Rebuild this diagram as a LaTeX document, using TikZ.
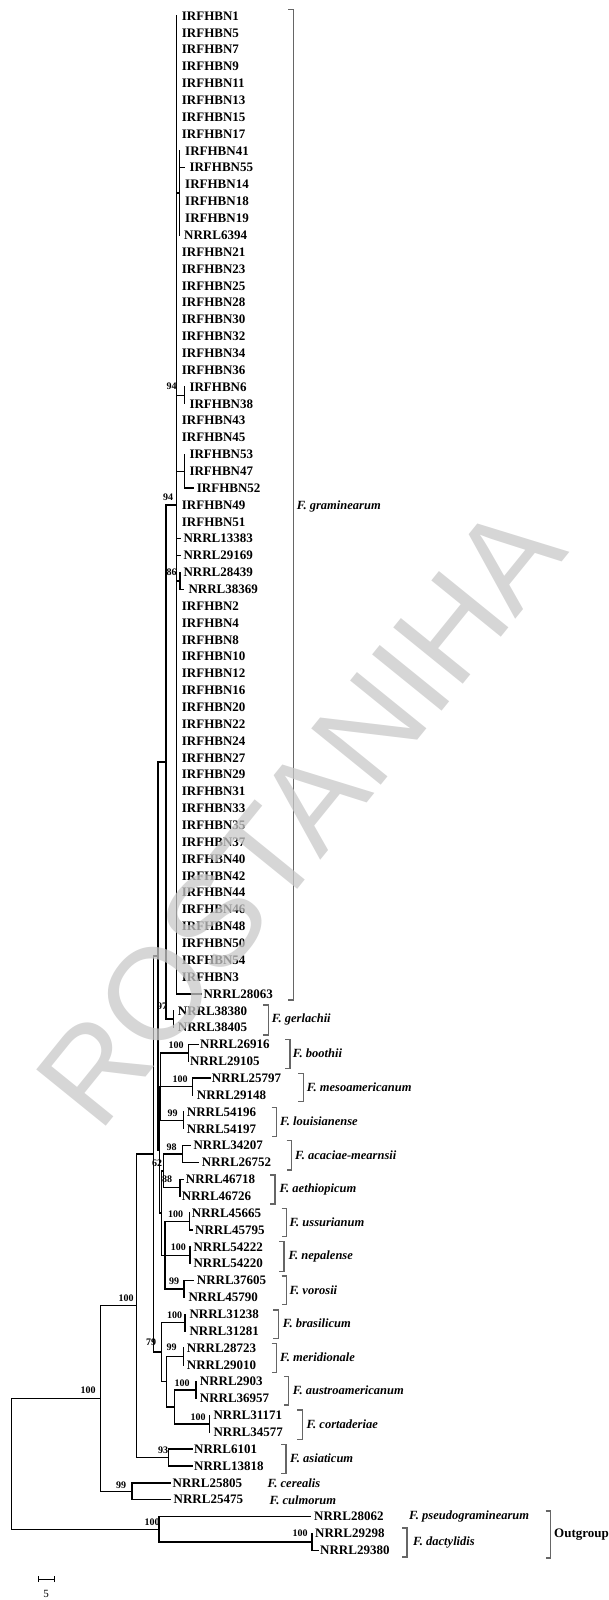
\documentclass[tikz,border=0pt]{standalone}
\usepackage{fontspec}
\setmainfont{Liberation Serif}
\newfontfamily\wmfont{Liberation Sans}
\tikzset{
 br/.style={line width=1.4pt, line cap=rect},
 lf/.style={anchor=west, inner sep=0pt, font=\fontsize{13}{13}\selectfont\bfseries},
 bs/.style={inner sep=0pt, font=\fontsize{10}{10}\selectfont\bfseries},
 sp/.style={anchor=west, inner sep=0pt, font=\fontsize{12.5}{12.5}\selectfont\bfseries\itshape},
 bk/.style={line width=1.1pt, draw=black!60},
 wm/.style={inner sep=0pt, text={rgb,255:red,200;green,200;blue,200}, opacity=0.75, font=\wmfont\fontsize{130}{130}\selectfont},
}
\newcommand\leaf[5]{%
 \coordinate (#1) at (#3,{16+(#4-1)*16.86});
 \draw[br] (#2 |- #1) -- (#1);
 \node[lf] (#1L) at (#5,{16+(#4-1)*16.86}) {#1};}
\newcommand\vl[3]{\draw[br] (#1 |- #2) -- (#1 |- #3);}
\newcommand\stem[2]{\draw[br] (#1 |- #2) -- (#2);}
\newcommand\brk[7]{%
 \draw[bk] ({#1-5},#2) -- (#1,#2) -- (#1,#3) -- ({#1-5},#3);
 \node[sp] (#7) at (#4,#5) {#6};}
\begin{document}
\begin{tikzpicture}[x=1pt,y=-1pt]
\useasboundingbox (0,0) rectangle (608,1600);
% internal nodes
\coordinate (G) at (176.7,504.9);
\coordinate (S1) at (179.3,193.03);
\coordinate (S2) at (184.3,395.35);
\coordinate (S3) at (184.3,471.22);
\coordinate (S4) at (180,580.81);
\coordinate (Ge) at (173.5,1019.17);
\coordinate (P1) at (166,762.0);
\coordinate (Bo) at (188.3,1052.89);
\coordinate (Me) at (192.7,1086.61);
\coordinate (Lo) at (183.3,1120.33);
\coordinate (M) at (160.7,1086.61);
\coordinate (Ac) at (182.3,1154.05);
\coordinate (Ae) at (180,1187.77);
\coordinate (AA) at (163.3,1170.91);
\coordinate (Us) at (189.3,1221.49);
\coordinate (Ne) at (190,1255.21);
\coordinate (Vo) at (184,1288.93);
\coordinate (U) at (165,1255.21);
\coordinate (N2) at (161.7,1213.06);
\coordinate (N1) at (159.3,1149.84);
\coordinate (P2) at (158,955.9);
\coordinate (Br) at (185,1322.65);
\coordinate (Mr) at (183.3,1356.37);
\coordinate (Au) at (195.8,1390.09);
\coordinate (Co) at (209.4,1423.81);
\coordinate (Y) at (174.5,1406.95);
\coordinate (X) at (166.7,1381.66);
\coordinate (R) at (161.7,1352.16);
\coordinate (Q) at (153.3,1154.03);
\coordinate (As) at (168.7,1457.53);
\coordinate (B) at (136.7,1305.78);
\coordinate (C) at (131.8,1491.25);
\coordinate (A) at (100.5,1398.5);
\coordinate (E) at (312,1541.83);
\coordinate (D) at (159,1529.19);
\coordinate (Rt) at (11.6,1463.8);
% leaves: graminearum
\leaf{IRFHBN1}{G}{176.7}{1}{181.7}
\leaf{IRFHBN5}{G}{176.7}{2}{181.7}
\leaf{IRFHBN7}{G}{176.7}{3}{181.7}
\leaf{IRFHBN9}{G}{176.7}{4}{181.7}
\leaf{IRFHBN11}{G}{176.7}{5}{181.7}
\leaf{IRFHBN13}{G}{176.7}{6}{181.7}
\leaf{IRFHBN15}{G}{176.7}{7}{181.7}
\leaf{IRFHBN17}{G}{176.7}{8}{181.7}
\leaf{IRFHBN41}{S1}{179.3}{9}{185}
\leaf{IRFHBN55}{S1}{184}{10}{189.3}
\leaf{IRFHBN14}{S1}{179.3}{11}{185}
\leaf{IRFHBN18}{S1}{179.3}{12}{185}
\leaf{IRFHBN19}{S1}{179.3}{13}{185}
\leaf{NRRL6394}{S1}{179.3}{14}{184}
\leaf{IRFHBN21}{G}{176.7}{15}{181.7}
\leaf{IRFHBN23}{G}{176.7}{16}{181.7}
\leaf{IRFHBN25}{G}{176.7}{17}{181.7}
\leaf{IRFHBN28}{G}{176.7}{18}{181.7}
\leaf{IRFHBN30}{G}{176.7}{19}{181.7}
\leaf{IRFHBN32}{G}{176.7}{20}{181.7}
\leaf{IRFHBN34}{G}{176.7}{21}{181.7}
\leaf{IRFHBN36}{G}{176.7}{22}{181.7}
\leaf{IRFHBN6}{S2}{184.3}{23}{189.3}
\leaf{IRFHBN38}{S2}{184.3}{24}{189.3}
\leaf{IRFHBN43}{G}{176.7}{25}{181.7}
\leaf{IRFHBN45}{G}{176.7}{26}{181.7}
\leaf{IRFHBN53}{S3}{184.3}{27}{189.3}
\leaf{IRFHBN47}{S3}{184.3}{28}{189.3}
\leaf{IRFHBN52}{S3}{193.3}{29}{196.7}
\leaf{IRFHBN49}{G}{176.7}{30}{181.7}
\leaf{IRFHBN51}{G}{176.7}{31}{181.7}
\leaf{NRRL13383}{G}{180.5}{32}{183.3}
\leaf{NRRL29169}{G}{180.5}{33}{183.3}
\leaf{NRRL28439}{S4}{180}{34}{183.3}
\leaf{NRRL38369}{S4}{183.3}{35}{188.3}
\leaf{IRFHBN2}{G}{176.7}{36}{181.7}
\leaf{IRFHBN4}{G}{176.7}{37}{181.7}
\leaf{IRFHBN8}{G}{176.7}{38}{181.7}
\leaf{IRFHBN10}{G}{176.7}{39}{181.7}
\leaf{IRFHBN12}{G}{176.7}{40}{181.7}
\leaf{IRFHBN16}{G}{176.7}{41}{181.7}
\leaf{IRFHBN20}{G}{176.7}{42}{181.7}
\leaf{IRFHBN22}{G}{176.7}{43}{181.7}
\leaf{IRFHBN24}{G}{176.7}{44}{181.7}
\leaf{IRFHBN27}{G}{176.7}{45}{181.7}
\leaf{IRFHBN29}{G}{176.7}{46}{181.7}
\leaf{IRFHBN31}{G}{176.7}{47}{181.7}
\leaf{IRFHBN33}{G}{176.7}{48}{181.7}
\leaf{IRFHBN35}{G}{176.7}{49}{181.7}
\leaf{IRFHBN37}{G}{176.7}{50}{181.7}
\leaf{IRFHBN40}{G}{176.7}{51}{181.7}
\leaf{IRFHBN42}{G}{176.7}{52}{181.7}
\leaf{IRFHBN44}{G}{176.7}{53}{181.7}
\leaf{IRFHBN46}{G}{176.7}{54}{181.7}
\leaf{IRFHBN48}{G}{176.7}{55}{181.7}
\leaf{IRFHBN50}{G}{176.7}{56}{181.7}
\leaf{IRFHBN54}{G}{176.7}{57}{181.7}
\leaf{IRFHBN3}{G}{176.7}{58}{181.7}
\leaf{NRRL28063}{G}{201.7}{59}{203.3}
% other species
\leaf{NRRL38380}{Ge}{173.5}{60}{177.7}
\leaf{NRRL38405}{Ge}{173.5}{61}{177.7}
\leaf{NRRL26916}{Bo}{198.3}{62}{200}
\leaf{NRRL29105}{Bo}{188.3}{63}{190}
\leaf{NRRL25797}{Me}{210}{64}{211.7}
\leaf{NRRL29148}{Me}{192.7}{65}{196.7}
\leaf{NRRL54196}{Lo}{183.3}{66}{186.7}
\leaf{NRRL54197}{Lo}{183.3}{67}{186.7}
\leaf{NRRL34207}{Ac}{190}{68}{193.3}
\leaf{NRRL26752}{Ac}{198.3}{69}{201.7}
\leaf{NRRL46718}{Ae}{183.3}{70}{185.7}
\leaf{NRRL46726}{Ae}{180}{71}{181.7}
\leaf{NRRL45665}{Us}{189.3}{72}{191.7}
\leaf{NRRL45795}{Us}{192.7}{73}{195}
\leaf{NRRL54222}{Ne}{190}{74}{193.3}
\leaf{NRRL54220}{Ne}{190}{75}{193.3}
\leaf{NRRL37605}{Vo}{193.3}{76}{196.7}
\leaf{NRRL45790}{Vo}{184}{77}{188.3}
\leaf{NRRL31238}{Br}{185}{78}{189.3}
\leaf{NRRL31281}{Br}{185}{79}{189.3}
\leaf{NRRL28723}{Mr}{183.3}{80}{186.7}
\leaf{NRRL29010}{Mr}{183.3}{81}{186.7}
\leaf{NRRL2903}{Au}{195.8}{82}{199.7}
\leaf{NRRL36957}{Au}{195.8}{83}{199.7}
\leaf{NRRL31171}{Co}{209.4}{84}{213.3}
\leaf{NRRL34577}{Co}{209.4}{85}{213.3}
\leaf{NRRL6101}{As}{192}{86}{194}
\leaf{NRRL13818}{As}{192}{87}{194}
\leaf{NRRL25805}{C}{170.6}{88}{172.5}
\leaf{NRRL25475}{C}{170.6}{89}{173.5}
\leaf{NRRL28062}{D}{310}{90}{314}
\leaf{NRRL29298}{E}{312}{91}{315}
\leaf{NRRL29380}{E}{318}{92}{320}
% verticals
\vl{G}{IRFHBN1}{NRRL28063}
\vl{S1}{IRFHBN41}{NRRL6394}
\vl{S2}{IRFHBN6}{IRFHBN38}
\vl{S3}{IRFHBN53}{IRFHBN52}
\vl{S4}{NRRL28439}{NRRL38369}
\vl{Ge}{NRRL38380}{NRRL38405}
\vl{P1}{G}{Ge}
\vl{P2}{P1}{N1}
\vl{N1}{M}{N2}
\vl{M}{Bo}{Lo}
\vl{Bo}{NRRL26916}{NRRL29105}
\vl{Me}{NRRL25797}{NRRL29148}
\vl{Lo}{NRRL54196}{NRRL54197}
\vl{N2}{AA}{U}
\vl{AA}{Ac}{Ae}
\vl{Ac}{NRRL34207}{NRRL26752}
\vl{Ae}{NRRL46718}{NRRL46726}
\vl{U}{Us}{Vo}
\vl{Us}{NRRL45665}{NRRL45795}
\vl{Ne}{NRRL54222}{NRRL54220}
\vl{Vo}{NRRL37605}{NRRL45790}
\vl{Q}{P2}{R}
\vl{R}{Br}{X}
\vl{Br}{NRRL31238}{NRRL31281}
\vl{Mr}{NRRL28723}{NRRL29010}
\vl{X}{Mr}{Y}
\vl{Y}{Au}{Co}
\vl{Au}{NRRL2903}{NRRL36957}
\vl{Co}{NRRL31171}{NRRL34577}
\vl{B}{Q}{As}
\vl{As}{NRRL6101}{NRRL13818}
\vl{A}{B}{C}
\vl{C}{NRRL25805}{NRRL25475}
\vl{Rt}{A}{D}
\vl{D}{NRRL28062}{E}
\vl{E}{NRRL29298}{NRRL29380}
% stems
\stem{P1}{G}\stem{G}{S1}\stem{G}{S2}\stem{G}{S3}\stem{G}{S4}
\stem{P1}{Ge}\stem{P2}{P1}\stem{P2}{N1}\stem{N1}{M}\stem{N1}{N2}
\stem{M}{Bo}\stem{M}{Me}\stem{M}{Lo}\stem{N2}{AA}\stem{N2}{U}
\stem{AA}{Ac}\stem{AA}{Ae}\stem{U}{Us}\stem{U}{Ne}\stem{U}{Vo}
\stem{Q}{P2}\stem{Q}{R}\stem{R}{Br}\stem{R}{X}\stem{X}{Mr}\stem{X}{Y}
\stem{Y}{Au}\stem{Y}{Co}\stem{B}{Q}\stem{B}{As}\stem{A}{B}\stem{A}{C}
\stem{Rt}{A}\stem{Rt}{D}\stem{D}{E}
% bootstrap values
\node[bs] (b1) at (171.5,386.5) {94};
\node[bs] (b2) at (168,497) {94};
\node[bs] (b3) at (171.7,572) {86};
\node[bs] (b4) at (162,1006) {97};
\node[bs] (b5) at (176,1045) {100};
\node[bs] (b6) at (180,1079) {100};
\node[bs] (b7) at (172.5,1113) {99};
\node[bs] (b8) at (171.5,1147) {98};
\node[bs] (b9) at (167,1179) {88};
\node[bs] (b10) at (157,1163) {62};
\node[bs] (b11) at (175.5,1214) {100};
\node[bs] (b12) at (178.3,1247) {100};
\node[bs] (b13) at (174,1281) {99};
\node[bs] (b14) at (174.5,1315) {100};
\node[bs] (b15) at (151,1342) {79};
\node[bs] (b16) at (171.5,1347) {99};
\node[bs] (b17) at (182,1383) {100};
\node[bs] (b18) at (198,1417) {100};
\node[bs] (b19) at (163,1450) {93};
\node[bs] (b20) at (126,1298) {100};
\node[bs] (b21) at (88,1390) {100};
\node[bs] (b22) at (121,1485) {99};
\node[bs] (b23) at (152,1522) {100};
\node[bs] (b24) at (300,1533) {100};
% species brackets
\brk{293.3}{9.3}{1000}{296.7}{506.7}{F. graminearum}{sGra}
\brk{268.3}{1005}{1035}{271.7}{1019}{F. gerlachii}{sGer}
\brk{290}{1039.3}{1068.3}{292.7}{1053}{F. boothii}{sBoo}
\brk{303.3}{1073.3}{1101.7}{306.7}{1087}{F. mesoamericanum}{sMes}
\brk{276.7}{1107.3}{1136.7}{280}{1121}{F. louisianense}{sLou}
\brk{291.7}{1140.7}{1170}{295}{1155}{F. acaciae-mearnsii}{sAca}
\brk{275}{1175}{1204}{279.3}{1189}{F. aethiopicum}{sAet}
\brk{286.7}{1208.3}{1236.7}{289.3}{1222}{F. ussurianum}{sUss}
\brk{284}{1241.7}{1271.7}{288.3}{1256}{F. nepalense}{sNep}
\brk{286.7}{1276}{1304.3}{289.3}{1290}{F. vorosii}{sVor}
\brk{278.3}{1310}{1338.3}{282.7}{1323}{F. brasilicum}{sBra}
\brk{276.7}{1343.3}{1372.7}{280}{1357}{F. meridionale}{sMer}
\brk{288.9}{1376.7}{1405}{292.7}{1390}{F. austroamericanum}{sAus}
\brk{302.4}{1410}{1439.3}{306.3}{1424}{F. cortaderiae}{sCor}
\brk{286}{1444.3}{1473.3}{290}{1458}{F. asiaticum}{sAsi}
\brk{407}{1528}{1557}{413}{1542}{F. dactylidis}{sDac}
\node[sp] (sCer) at (267.5,1483) {F. cerealis};
\node[sp] (sCul) at (269.5,1500) {F. culmorum};
\node[sp] (sPse) at (409,1516.5) {F. pseudograminearum};
\draw[bk] (545.6,1511) -- (550.6,1511) -- (550.6,1558) -- (545.6,1558);
\node[lf] (og) at (554,1535) {Outgroup};
% scale bar
\coordinate (sb1) at (38,1579);
\coordinate (sb2) at (54,1579);
\draw[line width=0.8pt] (sb1) -- (sb2);
\draw[line width=0.8pt] ([yshift=-3]sb1) -- ([yshift=3]sb1);
\draw[line width=0.8pt] ([yshift=-3]sb2) -- ([yshift=3]sb2);
\node[inner sep=0pt, font=\fontsize{11}{11}\selectfont] (sbl) at (46,1594) {5};
% watermark
\node[wm, rotate=51] (wmk) at (300,815) {ROSTANIHA};
\end{tikzpicture}
\end{document}
